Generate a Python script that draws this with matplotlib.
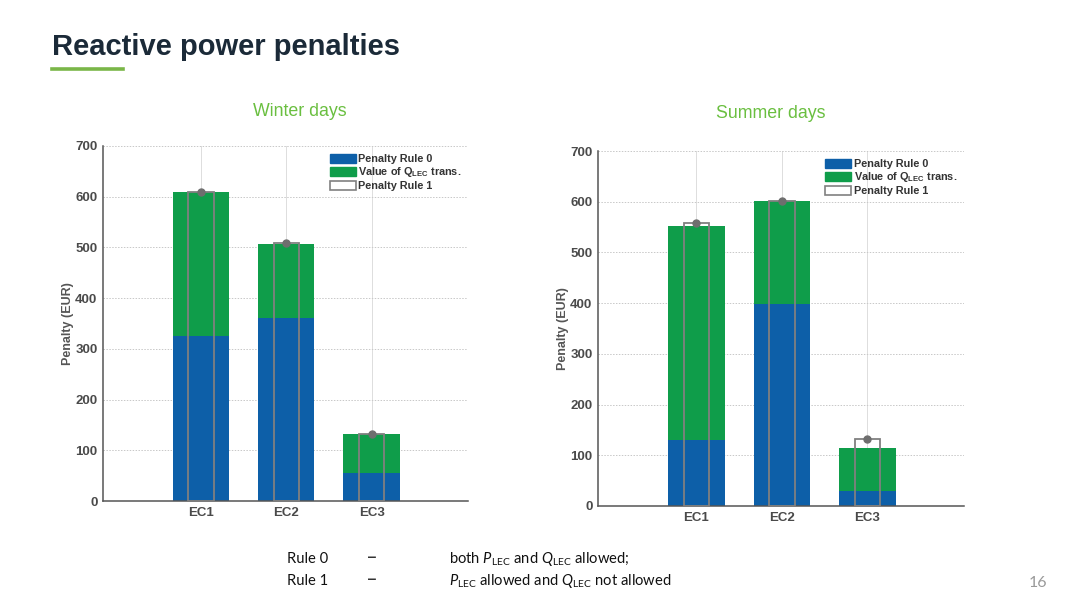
import matplotlib
matplotlib.use("Agg")
import matplotlib.pyplot as plt
import numpy as np
from matplotlib.patches import Patch

plt.rcParams['font.family'] = ['Liberation Sans', 'DejaVu Sans']
plt.rcParams['mathtext.fontset'] = 'custom'
plt.rcParams['mathtext.rm'] = 'Liberation Sans'
plt.rcParams['mathtext.bf'] = 'Liberation Sans:bold'
plt.rcParams['mathtext.it'] = 'Liberation Sans:italic'

categories = ["EC1", "EC2", "EC3"]
yticks = [0, 100, 200, 300, 400, 500, 600, 700]

winter_rule0 = [325, 361, 55]
winter_total = [609, 507, 133]
winter_rule1 = [609, 508, 132]

summer_rule0 = [130, 398, 30]
summer_total = [553, 602, 114]
summer_rule1 = [559, 602, 133]

legend_labels = ["Penalty Rule 0", r"Value of Q$_{\mathbf{LEC}}$ trans.", "Penalty Rule 1"]

BLUE = "#0d5fa8"
GREEN = "#0f9d4a"
EDGE = "#808080"
TXT = "#4a4a4a"

fig = plt.figure(figsize=(10.8, 6.08), dpi=100)
fig.patch.set_facecolor("white")

# Title and underline
fig.text(52/1080, 1-47/608, "Reactive power penalties", fontsize=21, fontweight="bold",
         color="#1b2a38", va="center", ha="left")
fig.add_artist(plt.Line2D([52/1080, 123/1080], [1-69/608, 1-69/608], color="#7ab648", lw=2.6))


def draw(ax, rule0, total, rule1, title, title_x, title_y, leg_anchor):
    x = np.arange(1, len(categories) + 1)
    r0 = np.array(rule0)
    tot = np.array(total)
    q = tot - r0
    ax.set_axisbelow(True)
    ax.bar(x, r0, width=0.66, color=BLUE, zorder=2)
    ax.bar(x, q, bottom=r0, width=0.66, color=GREEN, zorder=2)
    ax.bar(x, rule1, width=0.3, fill=False, edgecolor=EDGE, lw=1.3, zorder=3)
    ax.plot(x, rule1, 'o', color="#6e6e6e", ms=5, zorder=4)
    ax.set_xlim(-0.15, 4.13)
    ax.set_ylim(0, 700)
    ax.set_yticks(yticks)
    ax.set_yticklabels([str(t) for t in yticks])
    ax.set_xticks(x)
    ax.set_xticklabels(categories)
    ax.yaxis.grid(True, color="#c8c8c8", ls=(0, (1.5, 1.5)), lw=0.7)
    ax.xaxis.grid(True, color="#dddddd", ls="-", lw=0.7)
    for s in ["top", "right"]:
        ax.spines[s].set_visible(False)
    for s in ["left", "bottom"]:
        ax.spines[s].set_color("#555555")
        ax.spines[s].set_linewidth(1.1)
    ax.tick_params(axis="both", length=0, labelsize=9.5, labelcolor=TXT, pad=4)
    for lab in ax.get_xticklabels() + ax.get_yticklabels():
        lab.set_fontweight("bold")
    ax.set_ylabel("Penalty (EUR)", fontsize=9, fontweight="bold", color="#555555", labelpad=1)
    handles = [Patch(facecolor=BLUE, edgecolor=BLUE),
               Patch(facecolor=GREEN, edgecolor=GREEN),
               Patch(facecolor="white", edgecolor=EDGE, lw=1.2)]
    leg = ax.legend(handles, legend_labels, loc="upper left", bbox_to_anchor=leg_anchor,
                    frameon=False, handlelength=2.4, handleheight=0.9,
                    handletextpad=0.25, labelspacing=0.15, borderpad=0.2,
                    prop={"weight": "bold", "size": 7.8})
    for t in leg.get_texts():
        t.set_color("#333333")
    fig.text(title_x, title_y, title, fontsize=12.8, color="#6abf40", ha="center", va="center")


ax1 = fig.add_axes([103/1080, 1-501/608, 365/1080, 355/608])
draw(ax1, winter_rule0, winter_total, winter_rule1, "Winter days", 300/1080, 1-112/608, (0.6, 1.0))

ax2 = fig.add_axes([598/1080, 1-506/608, 366/1080, 355/608])
draw(ax2, summer_rule0, summer_total, summer_rule1, "Summer days", 771/1080, 1-113/608, (0.6, 1.0))

# Footnotes
fs = 10.6
fam = ['Lato', 'DejaVu Sans']
plt.rcParams['mathtext.rm'] = 'Lato'
plt.rcParams['mathtext.it'] = 'Lato:italic'
fig.text(287/1080, 1-559/608, "Rule 0", fontsize=fs, family=fam, va="center", color="#111111")
fig.text(287/1080, 1-581/608, "Rule 1", fontsize=fs, family=fam, va="center", color="#111111")
fig.text(367/1080, 1-558/608, "\u2013", fontsize=14, family=['DejaVu Sans'], va="center", color="#333333")
fig.text(367/1080, 1-580/608, "\u2013", fontsize=14, family=['DejaVu Sans'], va="center", color="#333333")
fig.text(449/1080, 1-559/608, r"both $P_{\rm LEC}$ and $Q_{\rm LEC}$ allowed;", fontsize=fs,
         family=fam, va="center", color="#111111")
fig.text(449/1080, 1-581/608, r"$P_{\rm LEC}$ allowed and $Q_{\rm LEC}$ not allowed", fontsize=fs,
         family=fam, va="center", color="#111111")
fig.text(1038/1080, 1-583/608, "16", fontsize=11.5, family=fam, ha="center", va="center", color="#9a9a9a")

fig.savefig("out.png", dpi=100, facecolor="white")
